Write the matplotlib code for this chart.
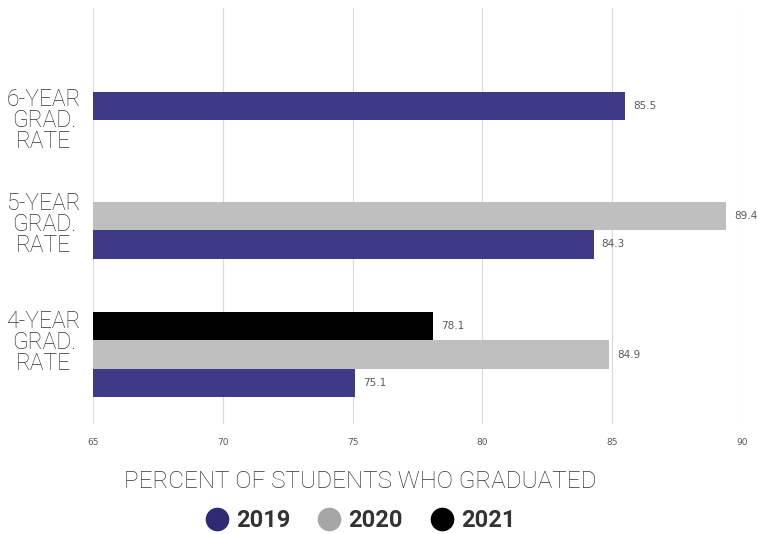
import matplotlib.pyplot as plt
from matplotlib.lines import Line2D
import numpy as np

# data
categories = ['4-YEAR\nGRAD.\nRATE', '5-YEAR\nGRAD.\nRATE', '6-YEAR\nGRAD.\nRATE']
years = ['2019', '2020', '2021']
rate_2019 = [75.1, 84.3, 85.5]
rate_2020 = [84.9, 89.4, None]
rate_2021 = [78.1, None, None]
x_ticks = [65, 70, 75, 80, 85, 90]

# label positions (the original labels sit a bit off the group centres)
label_y = [0.09, 0.94, 1.69]

bar_colors = ['#3F3A85', '#BFBFBF', '#000000']
legend_colors = ['#2E2A74', '#A6A6A6', '#000000']

fig = plt.figure(figsize=(7.57, 5.34), dpi=100)
ax = fig.add_axes([0.1229, 0.206, 0.857, 0.779])

h = 0.205
y = np.arange(len(categories))
offsets = [-h, 0, h]
for series, off, col in zip([rate_2019, rate_2020, rate_2021], offsets, bar_colors):
    for i, v in enumerate(series):
        if v is None:
            continue
        ax.barh(y[i] + off, v - 65, left=65, height=h, color=col, zorder=3)
        ax.text(v + 0.3, y[i] + off, f'{v}', va='center', ha='left',
                fontsize=7.5, color='#595959', clip_on=False)

ax.set_xlim(65, 90)
ax.set_ylim(-0.5, 2.5)
ax.set_xticks(x_ticks)
ax.set_xticklabels([str(t) for t in x_ticks], fontsize=6.5, color='#595959')
ax.tick_params(axis='x', length=0, pad=10)
ax.set_yticks([])
for lab, ly in zip(categories, label_y):
    ax.text(-0.076, ly, lab, transform=ax.get_yaxis_transform(), ha='center', va='center',
            fontsize=16.5, color='#333333', family='Roboto', fontweight='light',
            linespacing=0.9, multialignment='center')
ax.grid(axis='x', color='#D9D9D9', linewidth=0.8, zorder=0)
for s in ax.spines.values():
    s.set_visible(False)

fig.text(0.476, 0.099, 'PERCENT OF STUDENTS WHO GRADUATED', ha='center', va='center',
         fontsize=17.5, color='#333333', family='Roboto', fontweight='light')

handles = [Line2D([], [], marker='o', linestyle='', markersize=16,
                  markerfacecolor=c, markeredgecolor=c) for c in legend_colors]
leg = fig.legend(handles, years, loc='center', bbox_to_anchor=(0.476, 0.025), ncol=3,
                 frameon=False, handlelength=1.0, handletextpad=0.3, columnspacing=1.15,
                 prop={'family': 'Roboto', 'weight': 'bold', 'size': 17})
for t in leg.get_texts():
    t.set_color('#333333')

fig.savefig('out.png', dpi=100)
